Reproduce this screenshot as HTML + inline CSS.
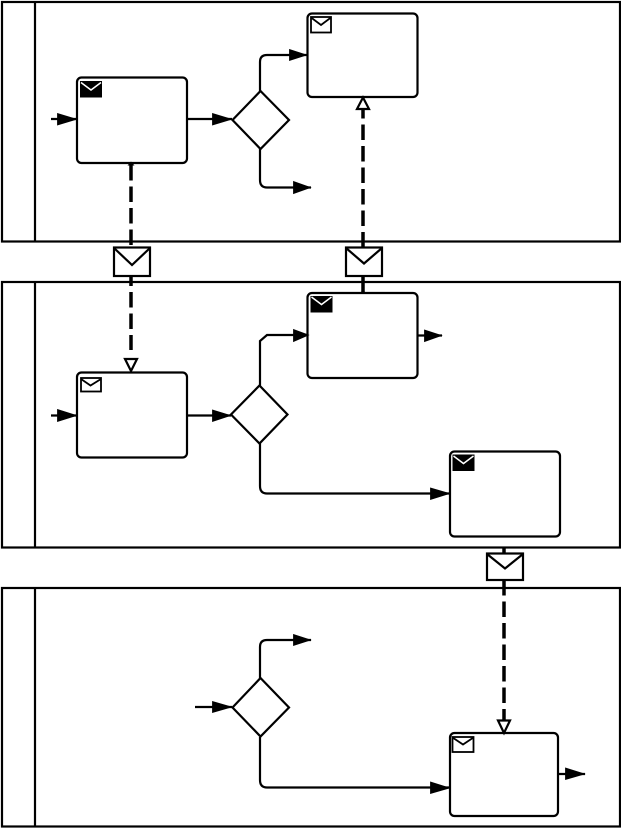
<!DOCTYPE html>
<html>
<head>
<meta charset="utf-8">
<style>
html,body{margin:0;padding:0;background:#fff;width:621px;height:829px;overflow:hidden}
svg{display:block}
</style>
</head>
<body>
<svg width="621" height="829" viewBox="0 0 621 829" xmlns="http://www.w3.org/2000/svg">
<rect width="621" height="829" fill="#fff"/>
<g fill="none" stroke="#000" stroke-width="2.200">
  <!-- pools -->
  <rect x="2" y="2" width="618" height="239.500"/>
  <path d="M35 2V241.500"/>
  <rect x="2" y="282" width="618" height="265.500"/>
  <path d="M35 282V547.500"/>
  <rect x="2" y="588" width="618" height="238.500"/>
  <path d="M35 588V826.500"/>

  <!-- sequence flows -->
  <path d="M51 119H77M187 119H232"/>
  <path d="M260 91V62Q260 55 267 55H307M260 149V180Q260 187.500 267 187.500H311"/>
  <path d="M51 415.500H77M187 415.500H231"/>
  <path d="M260 385.500V341L267 335H307M260 443.500V486Q260 493.500 267 493.500H450"/>
  <path d="M417.500 335.500H442"/>
  <path d="M195 707H232"/>
  <path d="M260 678V647Q260 640 267 640H311M260 737V780Q260 787.500 267 787.500H450"/>
  <path d="M558 774H585"/>

  <!-- message flows -->
  <path stroke-width="3.500" stroke-dasharray="15.500 6" d="M131 165V247.500"/>
  <path stroke-width="3.500" stroke-dasharray="15.500 6" stroke-dashoffset="5.500" d="M131 276V350"/>
  <path stroke-width="3.500" stroke-dasharray="15.500 6" d="M363 247.500V109"/>
  <path stroke-width="3.500" d="M363 276V292"/>
  <path stroke-width="3.500" d="M504 548V553"/>
  <path stroke-width="3.500" stroke-dasharray="15.500 6" d="M504 580V721"/>

  <!-- gateways -->
  <path fill="#fff" d="M260.500 91L289 120L260.500 149L232.500 120Z"/>
  <path fill="#fff" d="M259.500 385.500L287.500 414.500L259.500 443.500L231 414.500Z"/>
  <path fill="#fff" d="M260.500 678L289 707.500L260.500 736.500L232.500 707.500Z"/>

  <!-- tasks -->
  <rect fill="#fff" x="77" y="77.500" width="110" height="85.500" rx="4.500"/>
  <rect fill="#fff" x="307.500" y="13.500" width="110" height="83.500" rx="4.500"/>
  <rect fill="#fff" x="77" y="372.500" width="110" height="85" rx="4.500"/>
  <rect fill="#fff" x="307.500" y="293" width="110" height="85" rx="4.500"/>
  <rect fill="#fff" x="450" y="451.500" width="110" height="85" rx="4.500"/>
  <rect fill="#fff" x="450" y="733" width="108" height="83" rx="4.500"/>
</g>

<!-- filled arrowheads -->
<g fill="#000" stroke="#000" stroke-width="0.800" stroke-linejoin="miter">
  <path d="M57.500 113.500L76.500 119.300L57.500 125Z"/>
  <path d="M212.500 113.500L231.500 119.300L212.500 125Z"/>
  <path d="M289.500 49.500L306.500 55L289.500 60.500Z"/>
  <path d="M293.500 181.500L310.500 187.500L293.500 193.500Z"/>
  <path d="M57.500 409.500L76.500 415.500L57.500 421.500Z"/>
  <path d="M212.500 410L230.500 415.500L212.500 421.500Z"/>
  <path d="M293.500 329.500L308.500 335L293.500 341.500Z"/>
  <path d="M424.500 330L441.500 335.500L424.500 341.500Z"/>
  <path d="M430.500 488L449.500 493.500L430.500 499.500Z"/>
  <path d="M212.500 701.500L231.500 707L212.500 712.500Z"/>
  <path d="M293.500 634.500L310.500 640L293.500 645.500Z"/>
  <path d="M430.500 782L449.500 788L430.500 793.500Z"/>
  <path d="M565.500 768L584.500 774L565.500 779.500Z"/>
</g>

<!-- hollow arrowheads and small origin dots -->
<g fill="#fff" stroke="#000" stroke-width="2.200">
  <path d="M131 371L125 359H137Z"/>
  <path d="M363 97.500L357 109H369Z"/>
  <path d="M504 733L498 720.500H510Z"/>
</g>
<path d="M131 161.500L127.500 165.500H134.500Z" fill="#000"/>
<path d="M363 290L359 294H367Z" fill="#000"/>

<!-- message envelopes on flows -->
<g fill="#fff" stroke="#000" stroke-width="2.200">
  <rect x="114" y="247.500" width="36" height="28.500"/>
  <path d="M114 248L132 265L150 248" fill="none"/>
  <rect x="346" y="247.500" width="36" height="28.500"/>
  <path d="M346 248L364 263.500L382 248" fill="none"/>
  <rect x="487" y="553.500" width="36" height="26.500"/>
  <path d="M487 554L505 568.500L523 554" fill="none"/>
</g>

<!-- task markers: send (filled) -->
<g>
  <rect x="80" y="81" width="22" height="16.500" fill="#000"/>
  <path d="M81 82.500L91 90L101 82.500" fill="none" stroke="#fff" stroke-width="1.500"/>
  <rect x="310.500" y="296" width="22" height="16.500" fill="#000"/>
  <path d="M311.500 297L321.500 304.500L331.500 297" fill="none" stroke="#fff" stroke-width="1.500"/>
  <rect x="452.500" y="454.500" width="22" height="16.500" fill="#000"/>
  <path d="M453.500 456L463.500 463.500L473.500 456" fill="none" stroke="#fff" stroke-width="1.500"/>
</g>

<!-- task markers: receive (outline) -->
<g fill="#fff" stroke="#000" stroke-width="1.800">
  <rect x="311" y="17" width="20" height="15.500"/>
  <path d="M311 17.500L321 25L331 17.500" fill="none"/>
  <rect x="81" y="378" width="20" height="13.500"/>
  <path d="M81 379L90.500 385.500L101 379" fill="none"/>
  <rect x="452.500" y="737" width="21" height="15"/>
  <path d="M452.500 737.500L463 744.500L473.500 737.500" fill="none"/>
</g>
</svg>
</body>
</html>
